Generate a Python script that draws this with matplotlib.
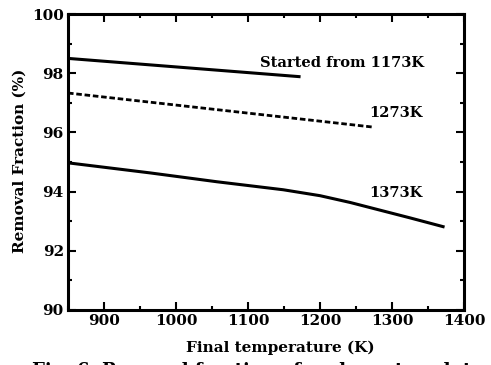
import matplotlib
matplotlib.use("Agg")
import matplotlib.pyplot as plt
from matplotlib.ticker import MultipleLocator

plt.rcParams['font.family'] = ['DejaVu Serif']
plt.rcParams['font.weight'] = 'bold'

# Data
x_1173 = [850, 1173]
y_1173 = [98.50, 97.88]

x_1273 = [850, 1273]
y_1273 = [97.33, 96.18]

x_1373 = [850, 964, 1057, 1149, 1200, 1242, 1325, 1373]
y_1373 = [94.97, 94.63, 94.33, 94.06, 93.86, 93.63, 93.11, 92.80]

labels = ["Started from 1173K", "1273K", "1373K"]
label_x = [1117, 1269, 1269]
label_y = [98.35, 96.66, 93.95]

fig = plt.figure(figsize=(4.91, 3.65), dpi=100)
ax = fig.add_axes([0.1385, 0.151, 0.8065, 0.8106])

ax.plot(x_1173, y_1173, color='black', lw=2.2, solid_capstyle='butt')
ax.plot(x_1273, y_1273, color='black', lw=2.0, linestyle=(0, (2.0, 1.0)))
ax.plot(x_1373, y_1373, color='black', lw=2.2, solid_capstyle='butt')

for t, lx, ly in zip(labels, label_x, label_y):
    ax.text(lx, ly, t, fontsize=10.5, fontweight='bold', va='center', ha='left')

ax.set_xlim(850, 1400)
ax.set_ylim(90, 100)
ax.xaxis.set_major_locator(MultipleLocator(100))
ax.xaxis.set_minor_locator(MultipleLocator(50))
ax.yaxis.set_major_locator(MultipleLocator(2))
ax.yaxis.set_minor_locator(MultipleLocator(1))
ax.tick_params(which='both', direction='in', top=True, right=True, width=1.5)
ax.tick_params(which='major', length=6, labelsize=11, pad=3)
ax.tick_params(which='minor', length=3)
for lab in ax.get_xticklabels() + ax.get_yticklabels():
    lab.set_fontweight('bold')
for s in ax.spines.values():
    s.set_linewidth(2.2)

ax.set_xlabel("Final temperature (K)", fontsize=11, fontweight='bold')
ax.set_ylabel("Removal Fraction (%)", fontsize=11, fontweight='bold')
ax.xaxis.set_label_coords(0.535, -0.105)
ax.yaxis.set_label_coords(-0.105, 0.505)

fig.text(0.065, -0.04, "Fig. 6  Removal fraction of carbon at each temperature",
         fontsize=13, fontweight='bold', ha='left', va='bottom')

fig.savefig("out.png", dpi=100)
